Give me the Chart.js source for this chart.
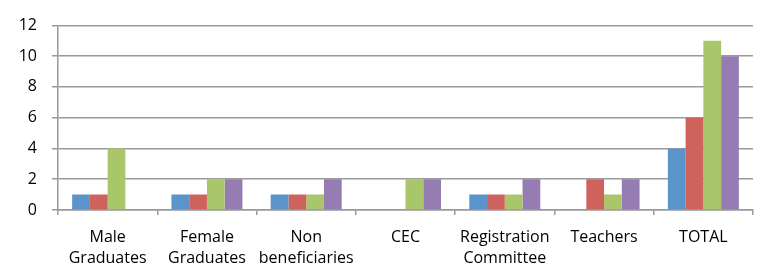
<!DOCTYPE html>
<html>
<head>
<meta charset="utf-8">
<script src="https://cdn.jsdelivr.net/npm/chart.js@4/dist/chart.umd.min.js"></script>
<style>
  html, body { margin: 0; padding: 0; background: #fff; }
  #wrap { width: 757px; height: 271px; }
</style>
</head>
<body>
<div id="wrap"><canvas id="chart" width="757" height="271"></canvas></div>
<script>
// categories (multi-line labels)
const categories = [
    ['Male', 'Graduates'],
    ['Female', 'Graduates'],
    ['Non', 'beneficiaries'],
    'CEC',
    ['Registration', 'Committee'],
    'Teachers',
    'TOTAL'
];

// four unnamed series
const series1 = [1, 1, 1, 0, 1, 0, 4];
const series2 = [1, 1, 1, 0, 1, 2, 6];
const series3 = [4, 2, 1, 2, 1, 1, 11];
const series4 = [0, 2, 2, 2, 2, 2, 10];

const yTicks = [0, 2, 4, 6, 8, 10, 12];

const colors = ['#5B93CB', '#CF625D', '#A9C66B', '#957CB3'];
const gridColor = '#9a9a9a';
const font = { family: '"Open Sans", "Liberation Sans", sans-serif', size: 16, lineHeight: 1.3 };

const ctx = document.getElementById('chart');

new Chart(ctx, {
    type: 'bar',
    data: {
        labels: categories,
        datasets: [series1, series2, series3, series4].map((d, i) => ({
            label: 'Series ' + (i + 1),
            data: d,
            backgroundColor: colors[i],
            borderWidth: 0,
            categoryPercentage: 0.715,
            barPercentage: 1.0
        }))
    },
    options: {
        responsive: false,
        animation: false,
        layout: { padding: { top: 14, right: 4, left: 0, bottom: 3 } },
        plugins: {
            legend: { display: false },
            tooltip: { enabled: false }
        },
        scales: {
            x: {
                afterFit: (axis) => { axis.height = 58; },
                grid: {
                    display: true,
                    drawOnChartArea: false,
                    color: gridColor,
                    lineWidth: 1.5,
                    tickLength: 5
                },
                border: { color: gridColor, width: 1.5 },
                ticks: {
                    color: '#000',
                    font: font,
                    padding: 12,
                    maxRotation: 0,
                    autoSkip: false
                }
            },
            y: {
                min: 0,
                max: 12,
                afterBuildTicks: (axis) => {
                    axis.ticks = yTicks.map(v => ({ value: v }));
                },
                afterFit: (axis) => { axis.width = 58; },
                grid: {
                    color: gridColor,
                    lineWidth: 1.5,
                    tickLength: 6
                },
                border: { color: gridColor, width: 1.5 },
                ticks: {
                    color: '#000',
                    font: font,
                    padding: 15
                }
            }
        }
    }
});
</script>
</body>
</html>
